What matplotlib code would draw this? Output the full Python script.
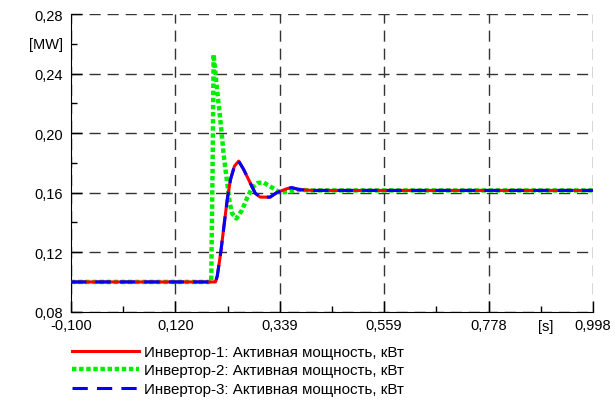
import numpy as np
import matplotlib.pyplot as plt
from matplotlib.ticker import FixedLocator, FuncFormatter

plt.rcParams['font.family'] = ['Liberation Sans', 'DejaVu Sans']

# Inverter 1 and 3 (they overlap)
t_inv1 = [-0.100, 0.200, 0.204, 0.2077, 0.2146, 0.2215, 0.2286, 0.2354, 0.2438,
          0.2527, 0.2632, 0.2771, 0.2875, 0.2979, 0.3188, 0.3327, 0.3536, 0.3640,
          0.3813, 0.4084, 0.998]
p_inv1 = [0.100, 0.100, 0.100, 0.104, 0.1187, 0.1368, 0.1551, 0.1687, 0.1778,
          0.1812, 0.1756, 0.1665, 0.1597, 0.1570, 0.1570, 0.1600, 0.1626, 0.1634,
          0.1620, 0.1615, 0.1615]
t_inv3 = list(t_inv1)
p_inv3 = list(p_inv1)

# Inverter 2
t_inv2 = [-0.100, 0.1950, 0.1980, 0.2000, 0.2042, 0.2077, 0.2132, 0.2181, 0.2215,
          0.2286, 0.2340, 0.2390, 0.2479, 0.2598, 0.2702, 0.2807, 0.2923, 0.3048,
          0.3188, 0.3396, 0.3605, 0.3813, 0.4084, 0.998]
p_inv2 = [0.100, 0.100, 0.180, 0.2529, 0.2393, 0.2279, 0.212, 0.196, 0.1846,
          0.1665, 0.1528, 0.146, 0.1426, 0.1483, 0.1562, 0.1631, 0.1665, 0.1669,
          0.1642, 0.1601, 0.1607, 0.1619, 0.1615, 0.1615]

labels = ['Инвертор-1: Активная мощность, кВт',
          'Инвертор-2: Активная мощность, кВт',
          'Инвертор-3: Активная мощность, кВт']

x_ticks = np.linspace(-0.100, 0.998, 6)
y_ticks = [0.08, 0.12, 0.16, 0.20, 0.24, 0.28]

fig = plt.figure(figsize=(6.15, 4.06), dpi=100)
ax = fig.add_axes([0.1154, 0.2298, 0.8488, 0.733])

ax.plot(t_inv1, p_inv1, color='#ff0000', lw=2.2, label=labels[0], zorder=3)
ax.plot(t_inv2, p_inv2, color='#00ee00', lw=3.2, ls=(0, (1, 0.6)),
        label=labels[1], zorder=2, solid_capstyle='butt', dash_capstyle='butt')
ax.plot(t_inv3, p_inv3, color='#0000ff', lw=2.2, ls=(0, (5, 3)),
        label=labels[2], zorder=4)

ax.set_xlim(-0.100, 0.998)
ax.set_ylim(0.08, 0.28)

ax.xaxis.set_major_locator(FixedLocator(x_ticks))
ax.xaxis.set_minor_locator(FixedLocator((x_ticks[:-1] + x_ticks[1:]) / 2))
ax.yaxis.set_major_locator(FixedLocator(y_ticks))
ax.yaxis.set_minor_locator(FixedLocator([0.10, 0.14, 0.18, 0.22, 0.26]))
ax.xaxis.set_major_formatter(FuncFormatter(lambda v, p: f'{v:.3f}'.replace('.', ',')))
ax.yaxis.set_major_formatter(FuncFormatter(lambda v, p: f'{v:.2f}'.replace('.', ',')))

ax.tick_params(which='major', direction='in', length=8, width=1, labelsize=10.5)
ax.tick_params(which='minor', direction='in', length=4, width=1)
ax.tick_params(axis='x', pad=4.5)
ax.tick_params(axis='y', pad=6)

ax.grid(True, which='major', color='#333333', ls=(0, (8, 5)), lw=1)
ax.spines['top'].set_visible(False)
ax.spines['right'].set_visible(False)

ax.text(-0.015, 0.26, '[MW]', transform=ax.get_yaxis_transform(),
        ha='right', va='center', fontsize=10.5)
ax.text(0.898, -0.025, '[s]', transform=ax.get_xaxis_transform(),
        ha='center', va='top', fontsize=10.5)

fig.legend(loc='upper left', bbox_to_anchor=(0.108, 0.163), frameon=False,
           fontsize=10.9, handlelength=4.4, handletextpad=0.35, labelspacing=0.3,
           borderaxespad=0)

fig.savefig('out.png', dpi=100)
